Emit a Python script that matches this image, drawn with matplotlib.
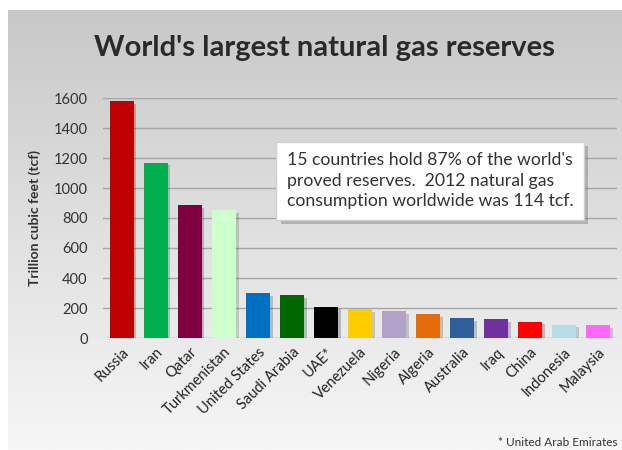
import matplotlib
matplotlib.use("Agg")
import matplotlib.pyplot as plt
import numpy as np
import matplotlib.patheffects as pe
from matplotlib.colors import LinearSegmentedColormap

countries = ["Russia", "Iran", "Qatar", "Turkmenistan", "United States", "Saudi Arabia",
             "UAE*", "Venezuela", "Nigeria", "Algeria", "Australia", "Iraq", "China",
             "Indonesia", "Malaysia"]
reserves = [1580, 1170, 885, 855, 300, 285, 210, 195, 180, 160, 135, 125, 110, 90, 85]
colors = ["#c00000", "#00b050", "#7f0040", "#ccffcc", "#0070c0", "#006600", "#000000",
          "#ffcc00", "#b3a2c7", "#e46c0a", "#2e5f9a", "#7030a0", "#ff0000", "#b7dde8", "#ff66ff"]
yticks = [0, 200, 400, 600, 800, 1000, 1200, 1400, 1600]

plt.rcParams['font.family'] = ['Lato', 'DejaVu Sans']

W, H = 622, 450
fig = plt.figure(figsize=(6.22, 4.5), dpi=100)
fig.patch.set_facecolor("white")
# gradient panel
bg = fig.add_axes([8/W, 0, 1 - 8/W, 1 - 10/H], zorder=-10)
grad = np.linspace(0, 1, 256).reshape(-1, 1)
cmap = LinearSegmentedColormap.from_list("g", ["#f6f6f6", "#e0e0e0", "#c8c8c8"])
bg.imshow(grad, aspect="auto", cmap=cmap, extent=[0, 1, 0, 1], origin="lower")
bg.set_axis_off()

ax = fig.add_axes([103/W, 1-338/H, (617-103)/W, (338-98)/H])
ax.set_facecolor("none")
x = np.arange(len(countries))
shadow = [pe.SimplePatchShadow(offset=(2, -2), alpha=0.22), pe.Normal()]
bars = ax.bar(x, reserves, width=0.7, color=colors, zorder=3)
for b in bars:
    b.set_path_effects(shadow)
ax.set_xlim(-0.55, len(countries) - 0.45)
ax.set_ylim(0, 1600)
ax.set_yticks(yticks)
ax.set_yticklabels([str(v) for v in yticks], fontsize=10.5, color="#333333")
ax.yaxis.grid(True, color="#a6a6a6", linewidth=1, zorder=0)
ax.set_axisbelow(True)
for s in ax.spines.values():
    s.set_visible(False)
ax.tick_params(axis="y", length=0, pad=11)
ax.tick_params(axis="x", length=0, pad=5)
ax.set_xticks(x)
ax.set_xticklabels(countries, rotation=45, ha="right", rotation_mode="anchor",
                   fontsize=10.5, color="#222222")
ax.set_ylabel("Trillion cubic feet (tcf)", fontsize=10, fontweight="bold", color="#333333", labelpad=9)

fig.text(324/W, 1 - 48/H, "World's largest natural gas reserves", ha="center", va="center",
         fontsize=21, fontweight="bold", color="#2a2a2a")

# annotation box
ax.text(0.358, 0.655,
        "15 countries hold 87% of the world's\nproved reserves.  2012 natural gas\nconsumption worldwide was 114 tcf.",
        transform=ax.transAxes, ha="left", va="center", fontsize=12.7, color="#333333",
        linespacing=1.35, zorder=5,
        bbox=dict(boxstyle="square,pad=0.6", facecolor="white", edgecolor="#d0d0d0",
                  path_effects=[pe.SimplePatchShadow(offset=(3, -3), alpha=0.3), pe.Normal()]))

fig.text(617/W, 1 - 443/H, "* United Arab Emirates", ha="right", va="center", fontsize=8.5, color="#333333")

fig.savefig("out.png", dpi=100)
